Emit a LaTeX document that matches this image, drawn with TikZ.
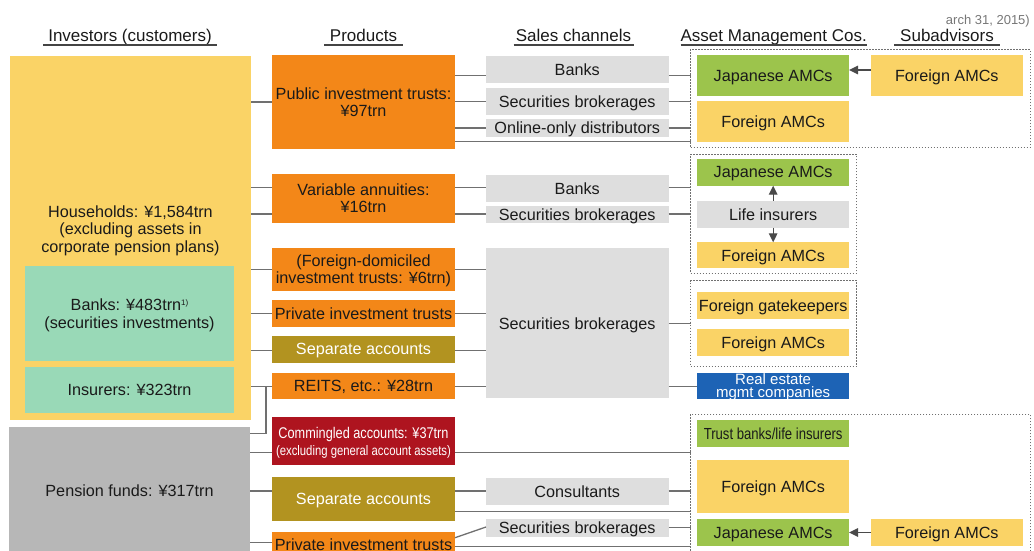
\documentclass[tikz,border=0pt]{standalone}
\usepackage{fontspec}
\setmainfont{Liberation Sans}
\newfontfamily\narrowfont[FakeStretch=0.82]{Liberation Sans}
\usetikzlibrary{arrows.meta}
\definecolor{cYel}{HTML}{FAD366}
\definecolor{cMint}{HTML}{99D9B7}
\definecolor{cPgray}{HTML}{B7B7B7}
\definecolor{cOrange}{HTML}{F38718}
\definecolor{cOlive}{HTML}{B29320}
\definecolor{cRed}{HTML}{AE141F}
\definecolor{cSgray}{HTML}{DEDEDE}
\definecolor{cGreen}{HTML}{9CC44C}
\definecolor{cBlue}{HTML}{1D63B5}
\definecolor{cLine}{HTML}{707070}
\definecolor{cArrow}{HTML}{4A4A4A}
\definecolor{cDash}{HTML}{707070}
\definecolor{cText}{HTML}{1A1A1A}
\definecolor{cUl}{HTML}{444444}
\definecolor{cNote}{HTML}{777777}
\newcommand\myfs[1]{\fontsize{#1}{17.5}\selectfont}
\newcommand\hconn[3]{\draw[ln] (#1.east |- 0,#3) -- (#2.west |- 0,#3);}
\tikzset{
  bx/.style={inner sep=0pt, outer sep=0pt, align=center, text=cText, font=\myfs{16.2}, text depth=0pt},
  sz/.style 2 args={minimum width=#1pt, minimum height=#2pt},
  ln/.style={draw=cLine, line width=1.3pt},
  arr/.style={draw=cArrow, line width=1.3pt, -{Triangle[length=9pt,width=8.5pt]}},
  dbox/.style={draw=cDash, line width=1pt, dash pattern=on 1.5pt off 1.5pt, inner sep=0pt, outer sep=0pt},
  hdr/.style={inner sep=0pt, outer sep=0pt, anchor=south, text depth=3.5pt, font=\myfs{17}, text=cText},
  ul/.style={draw=cUl, line width=1.2pt}
}
\begin{document}
\begin{tikzpicture}[x=1pt,y=-1pt]
\useasboundingbox (0,0) rectangle (1034,550);
\clip (0,0) rectangle (1034,550);

% note
\node[anchor=base east, inner sep=0pt, font=\myfs{13}, text=cNote] (note) at (1030,24.3) {arch 31, 2015)};

% headers
\node[hdr, minimum width=174pt] (hInv) at (130,45) {Investors (customers)};
\node[hdr, minimum width=79pt] (hProd) at (363.5,45) {Products};
\node[hdr, minimum width=120pt] (hSales) at (573.5,45) {Sales channels};
\node[hdr, minimum width=186pt] (hAMC) at (773.7,45) {Asset Management Cos.};
\node[hdr, minimum width=106pt] (hSub) at (947,45) {Subadvisors};
\foreach \h in {hInv,hProd,hSales,hAMC,hSub}{\draw[ul] (\h.south west) -- (\h.south east);}

% dashed groups
\node[dbox, sz={339.3}{98.4}] (db1) at (860.35,98.5) {};
\node[dbox, sz={166}{119}] (db2) at (773.7,213.8) {};
\node[dbox, sz={166}{86}] (db3) at (773.7,323.7) {};
\node[dbox, sz={339.3}{146}] (db4) at (860.35,487) {};

% investors
\node[bx, fill=cYel, sz={241}{364}] (hh) at (130.5,238) {};
\node[bx] (hhtxt) at (130.5,229) {Households: ¥1,584trn\\(excluding assets in\\corporate pension plans)};
\node[bx, fill=cMint, sz={209}{95}] (bk) at (129.5,313.5) {Banks: ¥483trn{\fontsize{8}{8}\selectfont\raisebox{5pt}{1)}}\\(securities investments)};
\node[bx, fill=cMint, sz={209}{46}] (ins) at (129.5,390) {Insurers: ¥323trn};
\node[bx, fill=cPgray, sz={241}{128}] (pf) at (129.5,491) {Pension funds: ¥317trn};

% products
\node[bx, fill=cOrange, sz={183}{94}] (pit) at (363.5,102) {Public investment trusts:\\¥97trn};
\node[bx, fill=cOrange, sz={183}{48.7}] (va) at (363.5,198.3) {Variable annuities:\\¥16trn};
\node[bx, fill=cOrange, sz={183}{42.5}] (fdit) at (363.5,269.3) {(Foreign-domiciled\\investment trusts: ¥6trn)};
\node[bx, fill=cOrange, sz={183}{26.7}] (pvt) at (363.5,313.3) {Private investment trusts};
\node[bx, fill=cOlive, text=white, sz={183}{26.7}] (sa) at (363.5,349.3) {Separate accounts};
\node[bx, fill=cOrange, sz={183}{26}] (reit) at (363.5,386.3) {REITS, etc.: ¥28trn};
\node[bx, fill=cRed, text=white, sz={183}{48.6}, font=\narrowfont\fontsize{15.5}{17}\selectfont] (cma) at (363.5,441) {Commingled accounts: ¥37trn\\{\fontsize{13.8}{17}\selectfont (excluding general account assets)}};
\node[bx, fill=cOlive, text=white, sz={183}{43.4}] (sa2) at (363.5,499) {Separate accounts};
\node[bx, fill=cOrange, sz={183}{26}] (pvt2) at (363.5,545) {Private investment trusts};

% sales channels
\node[bx, fill=cSgray, sz={182.5}{26.7}] (bk1) at (577.25,69.3) {Banks};
\node[bx, fill=cSgray, sz={182.5}{27}] (sb1) at (577.25,101.5) {Securities brokerages};
\node[bx, fill=cSgray, sz={182.5}{18}] (ood) at (577.25,128) {Online-only distributors};
\node[bx, fill=cSgray, sz={182.5}{26.7}] (bk2) at (577.25,188.3) {Banks};
\node[bx, fill=cSgray, sz={182.5}{17}] (sb2) at (577.25,214.2) {Securities brokerages};
\node[bx, fill=cSgray, sz={182.5}{150.3}] (sb3) at (577.25,323.2) {Securities brokerages};
\node[bx, fill=cSgray, sz={182.5}{26.7}] (cons) at (577.25,491.3) {Consultants};
\node[bx, fill=cSgray, sz={182.5}{18}] (sb4) at (577.25,527.7) {Securities brokerages};

% asset management cos
\node[bx, fill=cGreen, sz={151.7}{41}] (jp1) at (773.15,75.5) {Japanese AMCs};
\node[bx, fill=cYel, sz={151.7}{40.7}] (fa1) at (773.15,121.3) {Foreign AMCs};
\node[bx, fill=cGreen, sz={151.7}{26.7}] (jp2) at (773.15,172.3) {Japanese AMCs};
\node[bx, fill=cSgray, sz={151.7}{26.7}] (li) at (773.15,214.3) {Life insurers};
\node[bx, fill=cYel, sz={151.7}{26}] (fa2) at (773.15,255.3) {Foreign AMCs};
\node[bx, fill=cYel, sz={151.7}{26.7}] (fg) at (773.15,305.3) {Foreign gatekeepers};
\node[bx, fill=cYel, sz={151.7}{26.7}] (fa3) at (773.15,342.3) {Foreign AMCs};
\node[bx, fill=cBlue, text=white, sz={151.7}{26}, font=\fontsize{15}{13.5}\selectfont] (re) at (773.15,385.8) {Real estate\\mgmt companies};
\node[bx, fill=cGreen, sz={151.7}{26.7}, font=\narrowfont\fontsize{16}{17}\selectfont] (tb) at (773.15,433.3) {Trust banks/life insurers};
\node[bx, fill=cYel, sz={151.7}{52.7}] (fa4) at (773.15,486.3) {Foreign AMCs};
\node[bx, fill=cGreen, sz={151.7}{27}] (jp3) at (773.15,532.5) {Japanese AMCs};

% subadvisors
\node[bx, fill=cYel, sz={151.7}{41}] (sfa1) at (946.85,75.5) {Foreign AMCs};
\node[bx, fill=cYel, sz={151.7}{27}] (sfa2) at (946.85,532.5) {Foreign AMCs};

% investors -> products
\hconn{hh}{pit}{102}
\hconn{hh}{va}{187.7}
\hconn{hh}{va}{214}
\hconn{hh}{fdit}{269.3}
\hconn{hh}{pvt}{313.3}
\hconn{hh}{sa}{350.3}
\hconn{hh}{reit}{386.7}
\coordinate (j) at (266,386.7);
\draw[ln] (pf.east |- 0,433.3) -| (j);
\hconn{pf}{cma}{452.7}
\hconn{pf}{sa2}{491}
\hconn{pf}{pvt2}{542.7}

% products -> sales channels
\hconn{pit}{bk1}{75.3}
\hconn{pit}{sb1}{101.7}
\hconn{pit}{ood}{128}
\hconn{pit}{db1}{141.3}
\hconn{va}{bk2}{187.7}
\hconn{va}{sb2}{214}
\hconn{fdit}{sb3}{269.3}
\hconn{pvt}{sb3}{313.3}
\hconn{sa}{sb3}{350.3}
\hconn{reit}{sb3}{386.7}
\hconn{cma}{db4}{452.7}
\hconn{sa2}{cons}{491}
\hconn{sa2}{db4}{511.7}
\draw[ln] (pvt2.east |- 0,537.7) -- (sb4.west |- 0,527);
\hconn{pvt2}{db4}{546.7}

% sales channels -> AMCs
\hconn{bk1}{db1}{75.3}
\hconn{sb1}{db1}{101.7}
\hconn{ood}{db1}{128}
\hconn{bk2}{db2}{187.3}
\hconn{sb2}{db2}{214}
\hconn{sb3}{db3}{323.3}
\hconn{sb3}{re}{386.7}
\hconn{cons}{db4}{491}
\hconn{sb4}{db4}{527.7}

% arrows
\draw[arr] (sfa1.west |- 0,70) -- (jp1.east |- 0,70);
\draw[arr] (li.north) -- (jp2.south);
\draw[arr] (li.south) -- (fa2.north);
\draw[arr] (sfa2.west) -- (jp3.east);
\end{tikzpicture}
\end{document}
